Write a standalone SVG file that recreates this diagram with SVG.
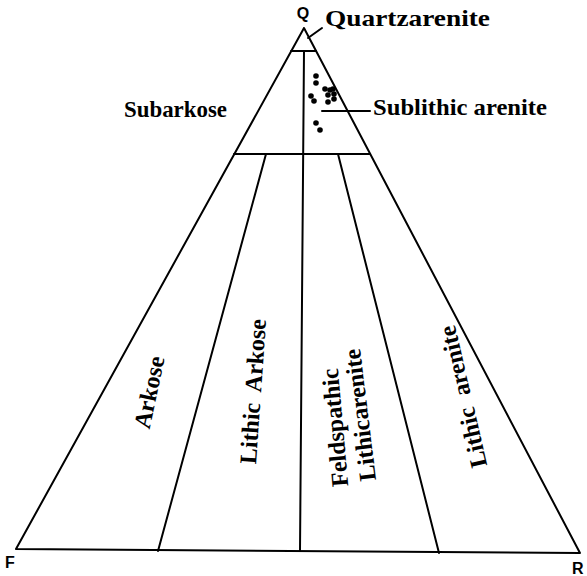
<svg xmlns="http://www.w3.org/2000/svg" width="587" height="576" viewBox="0 0 587 576">
<style>
.ln{stroke:#000;stroke-width:2;fill:none;stroke-linecap:round;stroke-linejoin:round}
.lb{font-family:"Liberation Serif","Times New Roman",serif;font-weight:bold;font-size:24px;fill:#000}
.ap{font-family:"Liberation Sans",Arial,sans-serif;font-weight:bold;font-size:16px;fill:#000}
.dot{fill:#000}
</style>
<rect width="587" height="576" fill="#fff"/>
<g id="connectors">
<polygon class="ln" points="304,28 16,549 580,553"/>
<line class="ln" x1="291" y1="51" x2="316" y2="51"/>
<line class="ln" x1="234" y1="154" x2="370" y2="154"/>
<line class="ln" x1="304" y1="51" x2="300" y2="551"/>
<line class="ln" x1="266" y1="154" x2="158" y2="551"/>
<line class="ln" x1="338" y1="154" x2="439" y2="553"/>
<line class="ln" x1="308" y1="38" x2="322" y2="28"/>
<line class="ln" x1="322" y1="111" x2="370" y2="111"/>
</g>
<g id="apex-Q"><text class="ap" x="303" y="19" text-anchor="middle">Q</text></g>
<g id="apex-F"><text class="ap" x="5" y="568">F</text></g>
<g id="apex-R"><text class="ap" x="572" y="574">R</text></g>
<g id="quartzarenite"><text class="lb" x="325" y="26" textLength="165" lengthAdjust="spacingAndGlyphs">Quartzarenite</text></g>
<g id="subarkose"><text class="lb" x="124" y="117" textLength="103" lengthAdjust="spacingAndGlyphs">Subarkose</text></g>
<g id="sublithic-arenite"><text class="lb" x="373" y="115" textLength="174" lengthAdjust="spacingAndGlyphs">Sublithic arenite</text></g>
<g id="arkose"><text class="lb" text-anchor="middle" transform="translate(157,394) rotate(-78)">Arkose</text></g>
<g id="lithic-arkose"><text class="lb" text-anchor="middle" transform="translate(261,392) rotate(-86)" xml:space="preserve">Lithic  Arkose</text></g>
<g id="feldspathic-lithicarenite">
<text class="lb" text-anchor="middle" transform="translate(343,427) rotate(-95)">Feldspathic</text>
<text class="lb" text-anchor="middle" transform="translate(368,414) rotate(-97)">Lithicarenite</text>
</g>
<g id="lithic-arenite"><text class="lb" text-anchor="middle" transform="translate(471,395) rotate(-103)" xml:space="preserve">Lithic  arenite</text></g>
<g id="samples">
<circle class="dot" cx="316" cy="76" r="2.8"/>
<circle class="dot" cx="316" cy="83" r="2.8"/>
<circle class="dot" cx="311" cy="96" r="2.8"/>
<circle class="dot" cx="314" cy="101" r="2.8"/>
<circle class="dot" cx="325" cy="89" r="2.8"/>
<circle class="dot" cx="330" cy="90" r="2.8"/>
<circle class="dot" cx="333" cy="89" r="2.8"/>
<circle class="dot" cx="334" cy="94" r="2.8"/>
<circle class="dot" cx="328" cy="95" r="2.8"/>
<circle class="dot" cx="334" cy="99" r="2.8"/>
<circle class="dot" cx="328" cy="102" r="2.8"/>
<circle class="dot" cx="316" cy="123" r="2.8"/>
<circle class="dot" cx="320" cy="130" r="2.8"/>
</g>
</svg>
